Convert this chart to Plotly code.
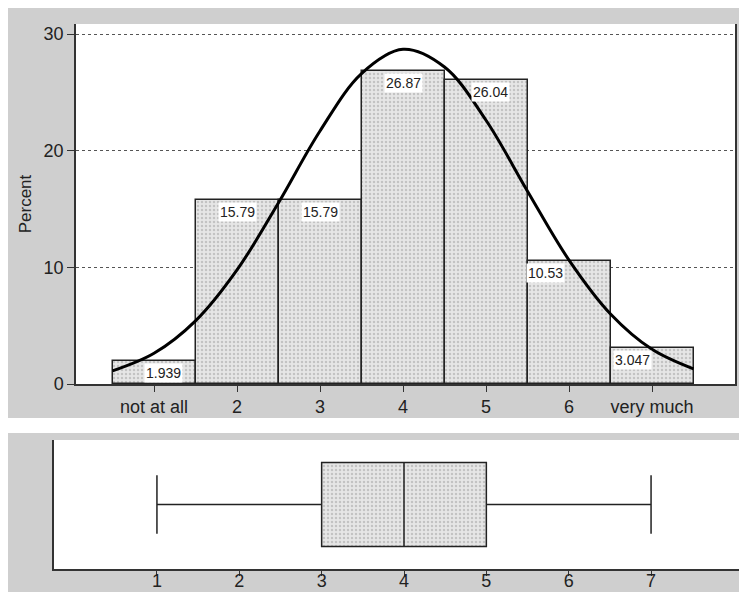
import plotly.graph_objects as go

# ---- data ----
categories = [1, 2, 3, 4, 5, 6, 7]
tick_labels = ["not at all", "2", "3", "4", "5", "6", "very much"]
percents = [1.939, 15.79, 15.79, 26.87, 26.04, 10.53, 3.047]
value_labels = ["1.939", "15.79", "15.79", "26.87", "26.04", "10.53", "3.047"]
label_x = [1.12, 2.0, 3.0, 4.0, 5.05, 5.72, 6.76]

# fitted normal curve
curve_x = [0.5, 1.0, 1.5, 2.0, 2.5, 3.0, 3.5, 4.0, 4.5, 5.0, 5.5, 6.0, 6.5, 7.0, 7.5]
curve_y = [1.12, 2.63, 5.41, 9.78, 15.54, 21.69, 26.61, 28.69, 27.17, 22.61, 16.53, 10.62, 6.00, 2.97, 1.29]

# box plot statistics
box_min = [1]
box_q1 = [3]
box_median = [4]
box_q3 = [5]
box_max = [7]

# page body has an 8px margin: figure occupies (8,8)-(747,592)
OFF = 8
W, H = 747 - OFF, 592 - OFF
FONT = "Liberation Sans"

def px(x):
    return (x - OFF) / W

def py(y):
    return 1 - (y - OFF) / H

fig = go.Figure()

fig.add_trace(go.Bar(
    x=categories, y=percents, width=1.0,
    marker=dict(color="#e4e4e4", line=dict(color="#222222", width=1.5),
                pattern=dict(shape=".", fgcolor="#a0a0a0", bgcolor="#e6e6e6", size=4, solidity=0.3)),
    xaxis="x", yaxis="y", showlegend=False, hoverinfo="skip",
))

fig.add_trace(go.Scatter(
    x=curve_x, y=curve_y, mode="lines", line=dict(color="black", width=3, shape="spline"),
    xaxis="x", yaxis="y", showlegend=False,
))

# textured fill of the box body (interquartile range)
fig.add_trace(go.Bar(
    y=[0], x=[q3 - q1 for q1, q3 in zip(box_q1, box_q3)], base=box_q1,
    orientation="h", width=1.3,
    marker=dict(color="#e4e4e4", line=dict(width=0),
                pattern=dict(shape=".", fgcolor="#a0a0a0", bgcolor="#e6e6e6", size=4, solidity=0.3)),
    xaxis="x2", yaxis="y2", showlegend=False, hoverinfo="skip",
))

fig.add_trace(go.Box(
    y=[0], q1=box_q1, median=box_median, q3=box_q3,
    lowerfence=box_min, upperfence=box_max,
    orientation="h", width=1.3, whiskerwidth=0.7,
    fillcolor="rgba(0,0,0,0)", line=dict(color="#222222", width=1.5),
    xaxis="x2", yaxis="y2", showlegend=False, boxpoints=False,
))

for lx, v, t in zip(label_x, percents, value_labels):
    fig.add_annotation(
        x=lx, y=v, xref="x", yref="y", text=t, showarrow=False,
        yanchor="top", yshift=-2, bgcolor="white", borderpad=1,
        font=dict(family=FONT, size=14, color="#222222"),
    )

shapes = [
    dict(type="rect", xref="paper", yref="paper", x0=px(8), x1=px(747), y0=py(418), y1=py(8),
         fillcolor="#cfcfcf", line=dict(width=0), layer="below"),
    dict(type="rect", xref="paper", yref="paper", x0=px(8), x1=px(747), y0=py(592), y1=py(433),
         fillcolor="#cfcfcf", line=dict(width=0), layer="below"),
    dict(type="rect", xref="paper", yref="paper", x0=px(76), x1=px(735), y0=py(384), y1=py(24),
         fillcolor="white", line=dict(width=0), layer="below"),
    dict(type="rect", xref="paper", yref="paper", x0=px(54), x1=px(740), y0=py(569), y1=py(440),
         fillcolor="white", line=dict(width=0), layer="below"),
]

tickfont = dict(family=FONT, size=18, color="#222222")

fig.update_layout(
    width=W, height=H,
    margin=dict(l=0, r=0, t=0, b=0),
    paper_bgcolor="white", plot_bgcolor="rgba(0,0,0,0)",
    shapes=shapes, bargap=0, barmode="overlay",
    xaxis=dict(domain=[px(76), px(735)], range=[0.06, 8.0], anchor="y",
               tickvals=categories, ticktext=tick_labels, ticks="outside", ticklen=6,
               tickcolor="#333333", showline=True, linecolor="#333333", linewidth=1.5,
               showgrid=False, zeroline=False, tickfont=tickfont, automargin=False),
    yaxis=dict(domain=[py(384), py(24)], range=[0, 30.86], anchor="x",
               tickvals=[0, 10, 20, 30], ticks="outside", ticklen=7, tickcolor="#333333",
               showline=True, linecolor="#333333", linewidth=1.5, mirror=True,
               showgrid=True, gridcolor="#555555", griddash="dot", gridwidth=1,
               zeroline=False, tickfont=tickfont, automargin=False,
               title=dict(text="Percent", font=dict(family=FONT, size=17, color="#222222"), standoff=8)),
    xaxis2=dict(domain=[px(54), px(740)], range=[-0.25, 8.08], anchor="y2",
                tickvals=categories, ticks="outside", ticklen=5, tickcolor="#333333",
                ticklabelstandoff=-10,
                showline=True, linecolor="#333333", linewidth=1.5, showgrid=False,
                zeroline=False, tickfont=tickfont, automargin=False),
    yaxis2=dict(domain=[py(569), py(440)], range=[-1, 1], anchor="x2",
                showticklabels=False, ticks="", showline=True, linecolor="#333333",
                linewidth=1.5, mirror=True, showgrid=False, zeroline=False, automargin=False),
)

fig.write_html("out.html")
